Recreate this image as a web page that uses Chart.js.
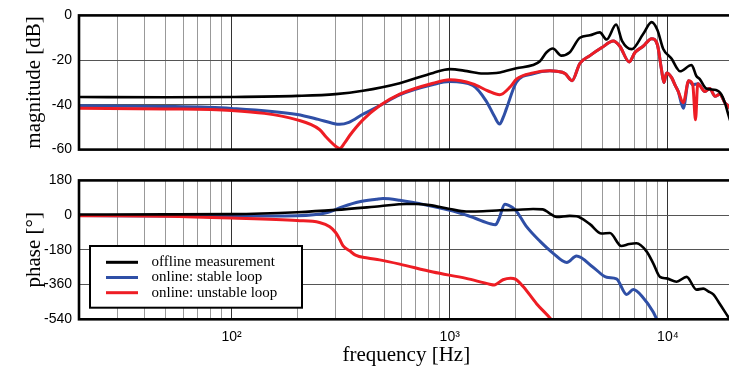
<!DOCTYPE html>
<html>
<head>
<meta charset="utf-8">
<script src="https://cdn.jsdelivr.net/npm/chart.js@4.4.0/dist/chart.umd.min.js"></script>
<style>
  body { margin: 0; background: #fff; overflow: hidden; }
  #wrap { position: relative; width: 729px; height: 374px; overflow: hidden; }
  canvas { position: absolute; left: 0; }
  #magChart { top: 0; }
  #phaseChart { top: 165px; }
</style>
</head>
<body>
<div id="wrap">
  <canvas id="magChart" width="745" height="165"></canvas>
  <canvas id="phaseChart" width="745" height="209"></canvas>
</div>
<script>
// series names (legend order)
const seriesNames = ["offline measurement", "online: stable loop", "online: unstable loop"];

// magnitude [dB]
const magFreqOffline = [20, 50, 100, 200, 300, 400, 590, 840, 1000, 1200, 1420, 1700, 2020, 2410, 2590, 2780, 2970, 3250, 3540, 3950, 4390, 4870, 5240, 5790, 6170, 6820, 7700, 8420, 8950, 9520, 10400, 11000, 11350, 12840, 13500, 14000, 15000, 16600, 17600, 18230, 18870, 20000];
const magOffline     = [-36.5, -36.6, -36.5, -36, -35.2, -33.7, -30.3, -25.7, -24, -24.9, -26, -25.5, -23.6, -22.2, -20.5, -16.5, -14.8, -18, -16.6, -10, -8.9, -7.6, -10.8, -4.1, -11.5, -15.1, -8.3, -3, -6.5, -15, -19.4, -23.6, -25, -22.2, -27.1, -28.5, -32.7, -33.4, -35.5, -39, -44, -52];

const magFreqStable = [20, 50, 100, 200, 250, 290, 313, 345, 400, 477, 590, 840, 1000, 1275, 1470, 1600, 1694, 1760, 1818, 2022, 2410, 2880, 3085, 3377, 3636, 3947, 4390, 4960, 5620, 6020, 6650, 7060, 7700, 8420, 8950, 9350, 9590, 9860, 10400, 10800, 11150, 11760, 12450, 13000, 13760, 14780, 15560, 16440, 17300, 18230, 18870, 20000];
const magStable     = [-40.4, -40.7, -41.6, -44.3, -46.5, -48.2, -48.7, -47.8, -44.2, -40.4, -35.5, -30.9, -29.6, -31.3, -38.3, -45, -48.6, -45.5, -41.8, -29.9, -26.1, -24.8, -25, -26, -29.2, -21.5, -18, -14.5, -11.5, -13.8, -20.8, -16.6, -13.8, -10.4, -13.1, -24.4, -30, -25.7, -27.8, -31.3, -34, -41.5, -29.2, -31, -30.6, -34, -32.7, -36.2, -35.2, -39, -40.4, -44];

const magFreqUnstable = [20, 50, 100, 200, 253, 272, 300, 313, 330, 348, 400, 477, 590, 840, 1000, 1275, 1500, 1694, 1900, 2022, 2410, 2880, 3085, 3377, 3636, 3947, 4390, 4960, 5620, 6020, 6650, 7060, 7700, 8420, 8950, 9350, 9590, 9860, 10400, 10800, 11150, 11760, 12450, 13000, 13380, 13700, 14780, 15560, 16440, 17300, 18230, 18870, 20000];
const magUnstable     = [-41.5, -41.8, -42.5, -46.7, -51, -54.5, -58.5, -59.5, -57, -53.7, -46.7, -40.4, -35.2, -30.3, -28.8, -30.6, -33.8, -35.5, -31.8, -28.5, -25.7, -24.8, -25, -26, -29.2, -21.5, -18, -14.5, -11.5, -13.8, -20.8, -16.6, -13.8, -10.4, -13.1, -24.4, -30, -25.7, -27.8, -31.3, -34, -39, -29.2, -31, -46.7, -30.6, -34, -32.7, -36.2, -35.2, -39, -40.4, -44];

// phase [deg]
const phFreqOffline = [20, 50, 100, 200, 300, 477, 633, 700, 809, 1000, 1190, 1420, 1700, 2000, 2410, 2670, 2880, 3090, 3550, 3810, 4390, 4960, 5420, 6110, 6650, 7180, 7980, 8565, 9190, 9860, 10960, 12180, 13520, 14520, 15300, 16150, 17300, 18870, 20000];
const phOffline     = [3, 4, 5, 15, 27, 46, 58, 58, 52, 32, 19, 20, 25, 27, 32, 30, 8, -10, -4, -6, -47, -95, -93, -160, -150, -146, -188, -250, -320, -328, -345, -320, -386, -381, -395, -411, -461, -527, -570];

const phFreqStable = [20, 50, 100, 200, 272, 324, 386, 461, 494, 590, 781, 1111, 1300, 1525, 1620, 1680, 1790, 1850, 2000, 2250, 2590, 2980, 3440, 3810, 4540, 5240, 5810, 6470, 6940, 7700, 8565, 8900, 9300];
const phStable     = [-2, -4, -5, -3, 12, 44, 69, 82, 86, 77, 52, 11, -15, -44, -50, -20, 56, 52, 27, -60, -135, -198, -246, -212, -270, -322, -330, -411, -386, -428, -502, -540, -580];

const phFreqUnstable = [20, 50, 100, 200, 253, 282, 300, 313, 324, 348, 370, 420, 477, 590, 838, 1189, 1525, 1600, 1755, 1900, 2000, 2170, 2500, 2930, 3100];
const phUnstable     = [-3, -6, -15, -28, -38, -60, -90, -125, -158, -185, -207, -222, -232, -254, -295, -328, -358, -362, -335, -327, -332, -370, -459, -543, -580];

// axes
const gridFreqs = [20, 30, 40, 50, 60, 70, 80, 90, 100, 200, 300, 400, 500, 600, 700, 800, 900, 1000, 2000, 3000, 4000, 5000, 6000, 7000, 8000, 9000, 10000, 20000];
const decadeLabels = { 100: "10\u00B2", 1000: "10\u00B3", 10000: "10\u2074" };
const magTicks = [0, -20, -40, -60];
const phaseTicks = [180, 0, -180, -360, -540];

const colors = ["#000000", "#2f4fa6", "#ee1d24"];

Chart.defaults.font.family = "'Liberation Sans', Arial, sans-serif";
Chart.defaults.font.size = 14;
Chart.defaults.color = "#000";

function toPoints(xs, ys) {
  return xs.map((x, i) => ({ x: x, y: ys[i] }));
}

function makeDatasets(sets) {
  // black on top, blue at the bottom
  const order = [0, 2, 1];
  return sets.map((s, i) => ({
    label: seriesNames[i],
    data: toPoints(s[0], s[1]),
    borderColor: colors[i],
    borderWidth: i === 0 ? 2.6 : 3,
    pointRadius: 0,
    cubicInterpolationMode: "monotone",
    order: order[i],
  }));
}

const framePlugin = {
  id: "frame",
  afterDatasetsDraw(chart) {
    const { ctx, chartArea: a } = chart;
    ctx.save();
    ctx.lineWidth = 2.6;
    ctx.strokeStyle = "#000";
    ctx.strokeRect(a.left, a.top, a.right - a.left, a.bottom - a.top);
    ctx.restore();
  },
};

const boxLegend = {
  id: "boxLegend",
  afterDraw(chart) {
    const { ctx, chartArea: a } = chart;
    const x = a.left + 11, y = a.bottom - 73.3, w = 212, h = 61.7;
    ctx.save();
    ctx.fillStyle = "#fff";
    ctx.fillRect(x, y, w, h);
    ctx.lineWidth = 2;
    ctx.strokeStyle = "#000";
    ctx.strokeRect(x, y, w, h);
    ctx.font = "15px 'Liberation Serif', 'Times New Roman', serif";
    ctx.textBaseline = "middle";
    chart.data.datasets.forEach((ds, i) => {
      const ry = y + 16.3 + i * 15.2;
      ctx.strokeStyle = ds.borderColor;
      ctx.lineWidth = 3;
      ctx.beginPath();
      ctx.moveTo(x + 16, ry);
      ctx.lineTo(x + 48, ry);
      ctx.stroke();
      ctx.fillStyle = "#000";
      ctx.fillText(ds.label, x + 61.5, ry);
    });
    ctx.restore();
  },
};

function xAxis(withLabels, height) {
  return {
    type: "logarithmic",
    min: 20,
    max: 20000,
    afterBuildTicks: (s) => { s.ticks = gridFreqs.map((v) => ({ value: v })); },
    afterFit: (s) => { s.height = height; },
    grid: {
      color: (c) => (c.tick && decadeLabels[c.tick.value] ? "#333" : "#999"),
      lineWidth: 1,
      drawTicks: false,
    },
    border: { display: false },
    ticks: {
      display: withLabels,
      autoSkip: false,
      maxRotation: 0,
      padding: 9,
      callback: (v) => decadeLabels[v] || "",
    },
    title: {
      display: withLabels,
      text: "frequency [Hz]",
      font: { family: "'Liberation Serif', 'Times New Roman', serif", size: 21 },
      padding: { top: 0, bottom: 6 },
    },
  };
}

function yAxis(ticks, title) {
  return {
    min: ticks[ticks.length - 1],
    max: ticks[0],
    afterBuildTicks: (s) => { s.ticks = ticks.map((v) => ({ value: v })); },
    afterFit: (s) => { s.width = 79; },
    grid: { color: "#555", lineWidth: 1, drawTicks: false },
    border: { display: false },
    ticks: { padding: 7, callback: (v) => String(v) },
    title: {
      display: true,
      text: title,
      font: { family: "'Liberation Serif', 'Times New Roman', serif", size: 21 },
      padding: { top: 22, bottom: 0 },
    },
  };
}

const common = {
  responsive: false,
  animation: false,
  plugins: { legend: { display: false }, tooltip: { enabled: false } },
};

new Chart(document.getElementById("magChart"), {
  type: "line",
  data: {
    datasets: makeDatasets([
      [magFreqOffline, magOffline],
      [magFreqStable, magStable],
      [magFreqUnstable, magUnstable],
    ]),
  },
  options: {
    ...common,
    layout: { padding: { top: 12, right: 11.4, left: 0, bottom: 0 } },
    scales: { x: xAxis(false, 10), y: yAxis(magTicks, "magnitude [dB]") },
  },
  plugins: [framePlugin],
});

new Chart(document.getElementById("phaseChart"), {
  type: "line",
  data: {
    datasets: makeDatasets([
      [phFreqOffline, phOffline],
      [phFreqStable, phStable],
      [phFreqUnstable, phUnstable],
    ]),
  },
  options: {
    ...common,
    layout: { padding: { top: 9.3, right: 11.4, left: 0, bottom: 0 } },
    scales: { x: xAxis(true, 54.7), y: yAxis(phaseTicks, "phase [\u00B0]") },
  },
  plugins: [framePlugin, boxLegend],
});
</script>
</body>
</html>
